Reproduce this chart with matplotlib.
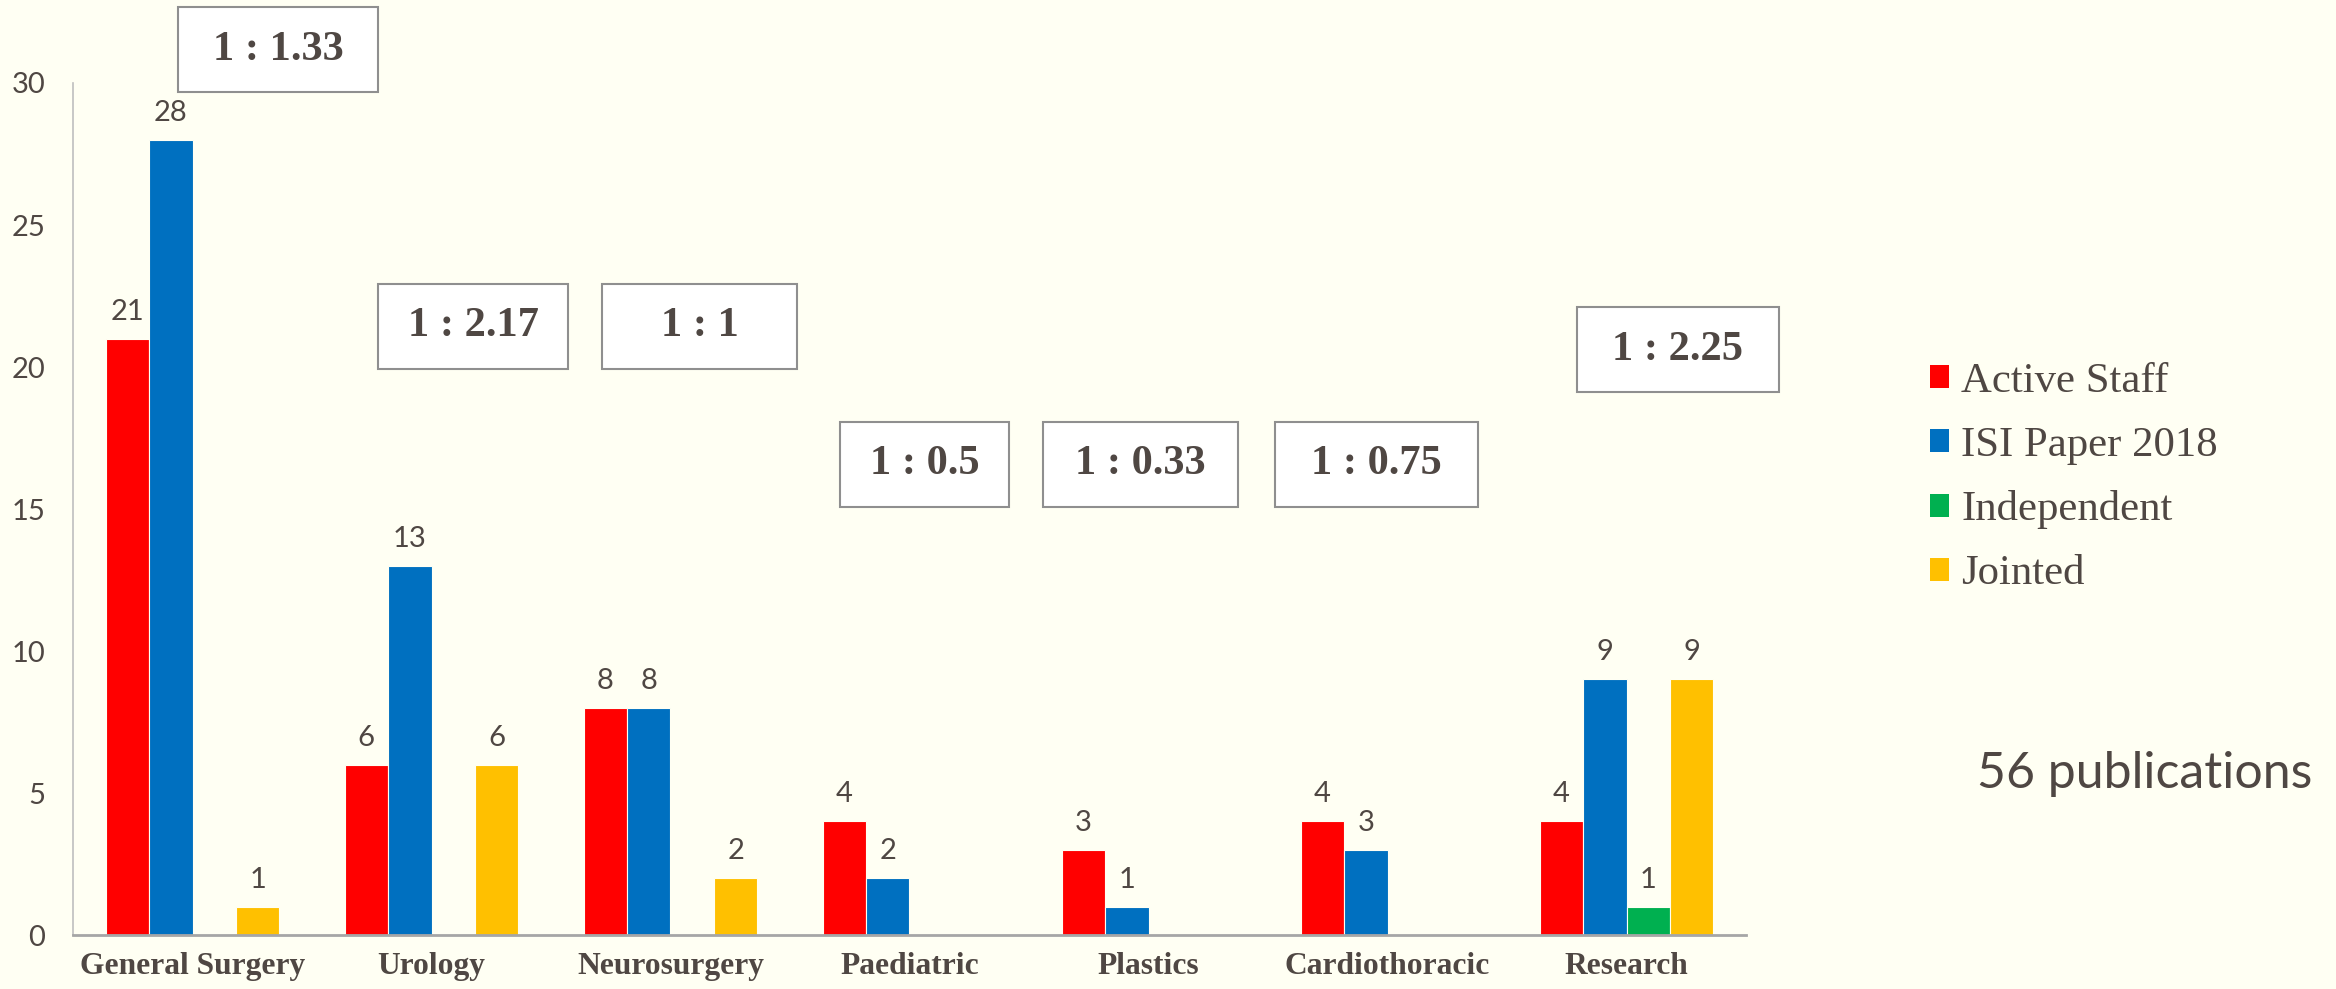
import numpy as np
import matplotlib
matplotlib.use("Agg")
import matplotlib.pyplot as plt
from matplotlib.patches import Patch, Rectangle

# ---------------- data ----------------
categories = ["General Surgery", "Urology", "Neurosurgery", "Paediatric",
              "Plastics", "Cardiothoracic", "Research"]
series_names = ["Active Staff", "ISI Paper 2018", "Independent", "Jointed"]
active_staff = [21, 6, 8, 4, 3, 4, 4]
isi_paper = [28, 13, 8, 2, 1, 3, 9]
independent = [0, 0, 0, 0, 0, 0, 1]
jointed = [1, 6, 2, 0, 0, 0, 9]
ratio_labels = ["1 : 1.33", "1 : 2.17", "1 : 1", "1 : 0.5",
                "1 : 0.33", "1 : 0.75", "1 : 2.25"]
y_ticks = [0, 5, 10, 15, 20, 25, 30]
note_text = "56 publications"

# ---------------- style ----------------
W, H = 2336, 989
BG = "#FFFFF3"
TEXT = "#4F4743"
colors = ["#FF0000", "#0070C0", "#00B050", "#FFC000"]
SERIF = ["Liberation Serif", "DejaVu Serif"]
SANS = ["Lato", "DejaVu Sans"]

# ratio boxes in pixel coordinates (x0, x1, y0, y1) from top-left
box_px = [(178, 378, 7, 92), (378, 568, 284, 369), (602, 797, 284, 369),
          (840, 1009, 422, 507), (1043, 1238, 422, 507), (1275, 1478, 422, 507),
          (1577, 1779, 307, 392)]

fig = plt.figure(figsize=(W / 100, H / 100), dpi=100)
fig.patch.set_facecolor(BG)

ax_l, ax_r, ax_t, ax_b = 73, 1746, 83, 935
ax = fig.add_axes([ax_l / W, 1 - ax_b / H, (ax_r - ax_l) / W, (ax_b - ax_t) / H])
ax.set_facecolor(BG)

series = [active_staff, isi_paper, independent, jointed]
x = np.arange(len(categories))
bw = 0.182
for i, (vals, col) in enumerate(zip(series, colors)):
    vals = np.array(vals, dtype=float)
    xs = x + (i - 1.5) * bw
    mask = vals > 0
    ax.bar(xs[mask], vals[mask], width=bw, color=col, edgecolor=BG, linewidth=0.8)
    for xi, v in zip(xs[mask], vals[mask]):
        ax.annotate(f"{int(v)}", (xi, v), xytext=(0, 19.5), textcoords="offset points",
                    ha="center", va="center", fontsize=21, color=TEXT, family=SANS)

ax.set_xlim(-0.5, len(categories) - 0.5)
ax.set_ylim(0, 30)
ax.set_yticks(y_ticks)
ax.set_yticklabels([str(t) for t in y_ticks], fontsize=21, color=TEXT, family=SANS)
ax.set_xticks(x)
ax.set_xticklabels(categories, fontsize=22.7, color=TEXT, family=SERIF, fontweight="bold")
ax.tick_params(axis="y", length=0, pad=20)
ax.tick_params(axis="x", length=0, pad=12)
for s in ["top", "right"]:
    ax.spines[s].set_visible(False)
ax.spines["left"].set_color("#BFBFBF")
ax.spines["left"].set_linewidth(1.2)
ax.spines["bottom"].set_color("#A6A6A6")
ax.spines["bottom"].set_linewidth(2)

# legend
handles = [Patch(facecolor=c, edgecolor="none") for c in colors]
leg = fig.legend(handles, series_names, loc="upper left",
                 bbox_to_anchor=(1930 / W, 1 - 362 / H), bbox_transform=fig.transFigure,
                 frameon=False, borderpad=0, borderaxespad=0,
                 handlelength=0.45, handleheight=0.45, handletextpad=0.28,
                 labelspacing=0.6, prop={"family": SERIF, "size": 30.8})
for t in leg.get_texts():
    t.set_color(TEXT)

# ratio boxes
for lab, (x0, x1, y0, y1) in zip(ratio_labels, box_px):
    fig.add_artist(Rectangle((x0 / W, 1 - y1 / H), (x1 - x0) / W, (y1 - y0) / H,
                             transform=fig.transFigure, facecolor="white",
                             edgecolor="#8F8F8F", linewidth=1.5))
    fig.text((x0 + x1) / 2 / W, 1 - (y0 + y1) / 2 / H, lab, ha="center", va="center",
             fontsize=30.5, fontweight="bold", family=SERIF, color=TEXT)

fig.text(1977 / W, 1 - 788 / H, note_text, ha="left", va="baseline",
         fontsize=36, family=SANS, color=TEXT)

fig.savefig("out.png", dpi=100, facecolor=BG)
